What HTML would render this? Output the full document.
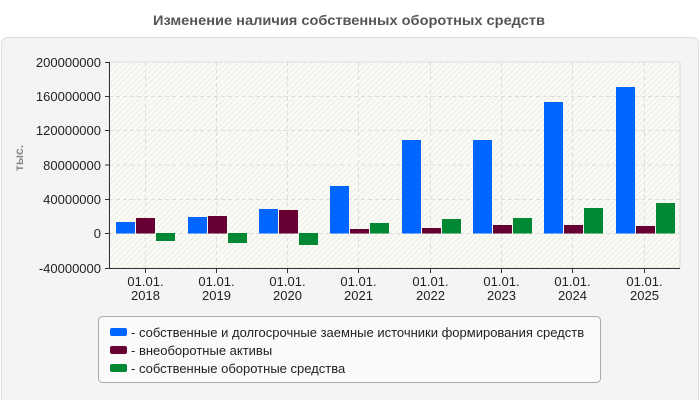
<!DOCTYPE html>
<html><head><meta charset="utf-8"><style>
html,body{margin:0;padding:0;background:#fff;}
svg{display:block;font-family:"Liberation Sans",sans-serif;}
</style></head><body>
<svg width="700" height="400" xmlns="http://www.w3.org/2000/svg">
<defs>
<pattern id="h" width="4" height="4" patternUnits="userSpaceOnUse" patternTransform="rotate(45)">
<rect width="4" height="4" fill="#fbfbf5"/><rect width="1" height="4" fill="#ececE8"/>
</pattern>
</defs>
<text x="349" y="25" text-anchor="middle" font-size="14" font-weight="bold" fill="#555" textLength="392" lengthAdjust="spacingAndGlyphs">Изменение наличия собственных оборотных средств</text>
<rect x="1.5" y="37.5" width="697" height="368" rx="6" fill="#f4f4f4" stroke="#ddd"/>
<rect x="109" y="62" width="571" height="206" fill="url(#h)" stroke="#ddd"/>
<g stroke="#ddd" stroke-dasharray="4,3">
<line x1="109" x2="680" y1="96.5" y2="96.5"/><line x1="109" x2="680" y1="130.5" y2="130.5"/>
<line x1="109" x2="680" y1="165" y2="165"/><line x1="109" x2="680" y1="199.5" y2="199.5"/>
<line x1="109" x2="680" y1="233.5" y2="233.5"/>
<line x1="145.5" x2="145.5" y1="62" y2="268"/><line x1="216.5" x2="216.5" y1="62" y2="268"/>
<line x1="287.5" x2="287.5" y1="62" y2="268"/><line x1="358.5" x2="358.5" y1="62" y2="268"/>
<line x1="430.5" x2="430.5" y1="62" y2="268"/><line x1="501.5" x2="501.5" y1="62" y2="268"/>
<line x1="572.5" x2="572.5" y1="62" y2="268"/><line x1="644.5" x2="644.5" y1="62" y2="268"/>
</g>
<g stroke="#333">
<line x1="109.5" x2="109.5" y1="62" y2="268.5"/><line x1="109" x2="680" y1="268.5" y2="268.5"/>
<line x1="105" x2="109" y1="62.5" y2="62.5"/><line x1="105" x2="109" y1="96.5" y2="96.5"/>
<line x1="105" x2="109" y1="130.5" y2="130.5"/><line x1="105" x2="109" y1="165" y2="165"/>
<line x1="105" x2="109" y1="199.5" y2="199.5"/><line x1="105" x2="109" y1="233.5" y2="233.5"/>
<line x1="105" x2="109" y1="268.5" y2="268.5"/>
<line x1="145.5" x2="145.5" y1="268" y2="273"/><line x1="216.5" x2="216.5" y1="268" y2="273"/>
<line x1="287.5" x2="287.5" y1="268" y2="273"/><line x1="358.5" x2="358.5" y1="268" y2="273"/>
<line x1="430.5" x2="430.5" y1="268" y2="273"/><line x1="501.5" x2="501.5" y1="268" y2="273"/>
<line x1="572.5" x2="572.5" y1="268" y2="273"/><line x1="644.5" x2="644.5" y1="268" y2="273"/>
</g>
<g font-size="13" fill="#222" text-anchor="end">
<text x="101" y="67">200000000</text><text x="101" y="101">160000000</text>
<text x="101" y="135">120000000</text><text x="101" y="170">80000000</text>
<text x="101" y="204">40000000</text><text x="101" y="238">0</text>
<text x="101" y="273">-40000000</text>
</g>
<text transform="translate(23,158) rotate(-90)" text-anchor="middle" font-size="12" font-weight="bold" fill="#888">тыс.</text>
<g font-size="13" fill="#222" text-anchor="middle">
<text x="145.5" y="286">01.01.</text><text x="145.5" y="300">2018</text>
<text x="216.5" y="286">01.01.</text><text x="216.5" y="300">2019</text>
<text x="287.5" y="286">01.01.</text><text x="287.5" y="300">2020</text>
<text x="358.5" y="286">01.01.</text><text x="358.5" y="300">2021</text>
<text x="430.5" y="286">01.01.</text><text x="430.5" y="300">2022</text>
<text x="501.5" y="286">01.01.</text><text x="501.5" y="300">2023</text>
<text x="572.5" y="286">01.01.</text><text x="572.5" y="300">2024</text>
<text x="644.5" y="286">01.01.</text><text x="644.5" y="300">2025</text>
</g>
<g fill="#0066ff">
<rect x="116" y="222" width="19" height="11.5"/><rect x="188" y="217" width="19" height="16.5"/>
<rect x="259" y="209" width="19" height="24.5"/><rect x="330" y="186" width="19" height="47.5"/>
<rect x="402" y="140" width="19" height="93.5"/><rect x="473" y="140" width="19" height="93.5"/>
<rect x="544" y="102" width="19" height="131.5"/><rect x="616" y="87" width="19" height="146.5"/>
</g>
<g fill="#660033">
<rect x="136" y="218" width="19" height="15.5"/><rect x="208" y="216" width="19" height="17.5"/>
<rect x="279" y="210" width="19" height="23.5"/><rect x="350" y="229" width="19" height="4.5"/>
<rect x="422" y="228" width="19" height="5.5"/><rect x="493" y="225" width="19" height="8.5"/>
<rect x="564" y="225" width="19" height="8.5"/><rect x="636" y="226" width="19" height="7.5"/>
</g>
<g fill="#008833">
<rect x="156" y="233" width="19" height="8"/><rect x="228" y="233" width="19" height="10"/>
<rect x="299" y="233" width="19" height="12"/><rect x="370" y="223" width="19" height="10.5"/>
<rect x="442" y="219" width="19" height="14.5"/><rect x="513" y="218" width="19" height="15.5"/>
<rect x="584" y="208" width="19" height="25.5"/><rect x="656" y="203" width="19" height="30.5"/>
</g>
<rect x="98.5" y="316.5" width="502" height="66" rx="4" fill="#fafafa" stroke="#aaa"/>
<rect x="110" y="328" width="17" height="8" rx="2" fill="#0066ff"/>
<rect x="110" y="346" width="17" height="8" rx="2" fill="#660033"/>
<rect x="110" y="364" width="17" height="8" rx="2" fill="#008833"/>
<g font-size="13" fill="#222">
<text x="131" y="337">- собственные и долгосрочные заемные источники формирования средств</text>
<text x="131" y="355">- внеоборотные активы</text>
<text x="131" y="373">- собственные оборотные средства</text>
</g>
</svg>
</body></html>
